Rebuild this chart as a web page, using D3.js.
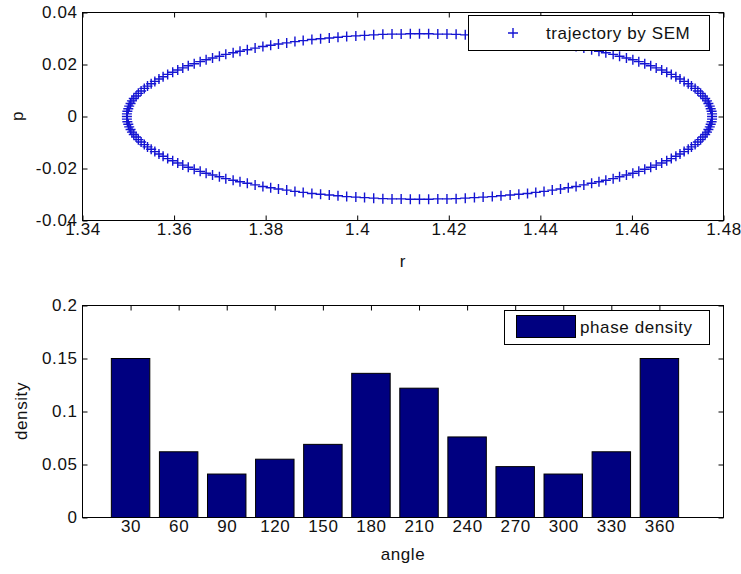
<!DOCTYPE html>
<html>
<head>
<meta charset="utf-8">
<script src="https://cdn.jsdelivr.net/npm/d3@7"></script>
<style>
  body { margin: 0; background: #fff; }
  svg text { font-family: "Liberation Sans", Arial, sans-serif; font-size: 17px; letter-spacing: 0.6px; fill: #111; }
</style>
</head>
<body>
<svg id="chart" width="741" height="574"></svg>
<script>
// trajectory points (r, p), upper half left->right then lower half back
const trajR = [
  1.3497, 1.3497, 1.3498, 1.3500, 1.3502, 1.3505, 1.3508, 1.3512, 1.3517, 1.3522,
  1.3528, 1.3535, 1.3542, 1.3550, 1.3558, 1.3567, 1.3576, 1.3586, 1.3597, 1.3608,
  1.3619, 1.3631, 1.3644, 1.3657, 1.3670, 1.3684, 1.3699, 1.3713, 1.3729, 1.3744,
  1.3760, 1.3777, 1.3794, 1.3811, 1.3828, 1.3846, 1.3864, 1.3882, 1.3901, 1.3920,
  1.3939, 1.3958, 1.3977, 1.3997, 1.4016, 1.4036, 1.4056, 1.4076, 1.4096, 1.4116,
  1.4136, 1.4156, 1.4176, 1.4196, 1.4216, 1.4236, 1.4256, 1.4275, 1.4295, 1.4314,
  1.4334, 1.4353, 1.4372, 1.4390, 1.4408, 1.4426, 1.4444, 1.4461, 1.4478, 1.4495,
  1.4512, 1.4528, 1.4543, 1.4559, 1.4573, 1.4588, 1.4602, 1.4615, 1.4628, 1.4641,
  1.4653, 1.4665, 1.4676, 1.4686, 1.4696, 1.4705, 1.4714, 1.4723, 1.4730, 1.4738,
  1.4744, 1.4750, 1.4755, 1.4760, 1.4764, 1.4767, 1.4770, 1.4772, 1.4774, 1.4775,
  1.4775, 1.4775, 1.4774, 1.4772, 1.4770, 1.4767, 1.4764, 1.4760, 1.4755, 1.4750,
  1.4744, 1.4738, 1.4730, 1.4723, 1.4714, 1.4705, 1.4696, 1.4686, 1.4676, 1.4665,
  1.4653, 1.4641, 1.4628, 1.4615, 1.4602, 1.4588, 1.4573, 1.4559, 1.4543, 1.4528,
  1.4512, 1.4495, 1.4478, 1.4461, 1.4444, 1.4426, 1.4408, 1.4390, 1.4372, 1.4353,
  1.4334, 1.4314, 1.4295, 1.4275, 1.4256, 1.4236, 1.4216, 1.4196, 1.4176, 1.4156,
  1.4136, 1.4116, 1.4096, 1.4076, 1.4056, 1.4036, 1.4016, 1.3997, 1.3977, 1.3958,
  1.3939, 1.3920, 1.3901, 1.3882, 1.3864, 1.3846, 1.3828, 1.3811, 1.3794, 1.3777,
  1.3760, 1.3744, 1.3729, 1.3713, 1.3699, 1.3684, 1.3670, 1.3657, 1.3644, 1.3631,
  1.3619, 1.3608, 1.3597, 1.3586, 1.3576, 1.3567, 1.3558, 1.3550, 1.3542, 1.3535,
  1.3528, 1.3522, 1.3517, 1.3512, 1.3508, 1.3505, 1.3502, 1.3500, 1.3498, 1.3497
];
const trajP = [
  0.0000, 0.0010, 0.0020, 0.0030, 0.0040, 0.0050, 0.0060, 0.0069, 0.0079, 0.0089,
  0.0098, 0.0108, 0.0117, 0.0126, 0.0135, 0.0144, 0.0153, 0.0162, 0.0170, 0.0179,
  0.0187, 0.0195, 0.0203, 0.0211, 0.0218, 0.0225, 0.0232, 0.0239, 0.0245, 0.0251,
  0.0257, 0.0263, 0.0269, 0.0274, 0.0279, 0.0283, 0.0288, 0.0292, 0.0296, 0.0299,
  0.0302, 0.0305, 0.0308, 0.0310, 0.0312, 0.0314, 0.0316, 0.0317, 0.0317, 0.0318,
  0.0318, 0.0318, 0.0317, 0.0317, 0.0316, 0.0314, 0.0312, 0.0310, 0.0308, 0.0305,
  0.0302, 0.0299, 0.0296, 0.0292, 0.0288, 0.0283, 0.0279, 0.0274, 0.0269, 0.0263,
  0.0257, 0.0251, 0.0245, 0.0239, 0.0232, 0.0225, 0.0218, 0.0211, 0.0203, 0.0195,
  0.0187, 0.0179, 0.0170, 0.0162, 0.0153, 0.0144, 0.0135, 0.0126, 0.0117, 0.0108,
  0.0098, 0.0089, 0.0079, 0.0069, 0.0060, 0.0050, 0.0040, 0.0030, 0.0020, 0.0010,
  0.0000, -0.0010, -0.0020, -0.0030, -0.0040, -0.0050, -0.0060, -0.0069, -0.0079, -0.0089,
  -0.0098, -0.0108, -0.0117, -0.0126, -0.0135, -0.0144, -0.0153, -0.0162, -0.0170, -0.0179,
  -0.0187, -0.0195, -0.0203, -0.0211, -0.0218, -0.0225, -0.0232, -0.0239, -0.0245, -0.0251,
  -0.0257, -0.0263, -0.0269, -0.0274, -0.0279, -0.0283, -0.0288, -0.0292, -0.0296, -0.0299,
  -0.0302, -0.0305, -0.0308, -0.0310, -0.0312, -0.0314, -0.0316, -0.0317, -0.0317, -0.0318,
  -0.0318, -0.0318, -0.0317, -0.0317, -0.0316, -0.0314, -0.0312, -0.0310, -0.0308, -0.0305,
  -0.0302, -0.0299, -0.0296, -0.0292, -0.0288, -0.0283, -0.0279, -0.0274, -0.0269, -0.0263,
  -0.0257, -0.0251, -0.0245, -0.0239, -0.0232, -0.0225, -0.0218, -0.0211, -0.0203, -0.0195,
  -0.0187, -0.0179, -0.0170, -0.0162, -0.0153, -0.0144, -0.0135, -0.0126, -0.0117, -0.0108,
  -0.0098, -0.0089, -0.0079, -0.0069, -0.0060, -0.0050, -0.0040, -0.0030, -0.0020, -0.0010
];

// phase density histogram
const angles = [30, 60, 90, 120, 150, 180, 210, 240, 270, 300, 330, 360];
const density = [0.150, 0.062, 0.041, 0.055, 0.069, 0.136, 0.122, 0.076, 0.048, 0.041, 0.062, 0.150];

// ticks
const rTicks = [1.34, 1.36, 1.38, 1.40, 1.42, 1.44, 1.46, 1.48];
const pTicks = [-0.04, -0.02, 0, 0.02, 0.04];
const densityTicks = [0, 0.05, 0.1, 0.15, 0.2];

const svg = d3.select("#chart");
const fmt = d => String(+d.toFixed(3));
const TICK = 5;

// ---------- top: trajectory ----------
const x1 = d3.scaleLinear().domain([1.34, 1.48]).range([82.5, 723.5]);
const y1 = d3.scaleLinear().domain([-0.04, 0.04]).range([220.5, 12.5]);

function frame(x, y, xt, yt) {
  const [l, r] = x.range(), [b, t] = y.range();
  const ax = (g) => g.call(s => s.select(".domain").remove());
  svg.append("g").attr("transform", `translate(0,${b})`)
    .call(d3.axisBottom(x).tickValues(xt).tickSizeInner(-TICK).tickSizeOuter(0).tickPadding(2)
      .tickFormat(fmt)).call(ax);
  svg.append("g").attr("transform", `translate(0,${t})`)
    .call(d3.axisTop(x).tickValues(xt).tickSizeInner(-TICK).tickSizeOuter(0).tickFormat("")).call(ax);
  svg.append("g").attr("transform", `translate(${l},0)`)
    .call(d3.axisLeft(y).tickValues(yt).tickSizeInner(-TICK).tickSizeOuter(0).tickPadding(5).tickFormat(fmt)).call(ax);
  svg.append("g").attr("transform", `translate(${r},0)`)
    .call(d3.axisRight(y).tickValues(yt).tickSizeInner(-TICK).tickSizeOuter(0).tickFormat("")).call(ax);
  svg.selectAll(".tick line").attr("stroke", "#000");
}

frame(x1, y1, rTicks, pTicks);

const plus = "M-5,0H5M0,-5V5";
svg.append("g").selectAll("path").data(trajR).join("path")
  .attr("d", plus)
  .attr("transform", (d, i) => `translate(${x1(d)},${y1(trajP[i])})`)
  .attr("fill", "none").attr("stroke", "#1414d2").attr("stroke-width", 1.4);

svg.append("rect").attr("x", 82.5).attr("y", 12.5).attr("width", 641).attr("height", 208)
  .attr("fill", "none").attr("stroke", "#000");

// legend
svg.append("rect").attr("x", 468.5).attr("y", 15.5).attr("width", 241).attr("height", 35)
  .attr("fill", "#fff").attr("stroke", "#000");
svg.append("path").attr("d", plus).attr("transform", "translate(513,33)")
  .attr("fill", "none").attr("stroke", "#1414d2").attr("stroke-width", 1.4);
svg.append("text").attr("x", 546).attr("y", 39).text("trajectory by SEM");

svg.append("text").attr("x", 403).attr("y", 267).attr("text-anchor", "middle").text("r");
svg.append("text").attr("transform", "translate(17,116) rotate(-90)").attr("text-anchor", "middle")
  .attr("dy", "0.35em").text("p");

// ---------- bottom: phase density ----------
const x2 = d3.scaleLinear().domain([0, 400]).range([82.5, 723.5]);
const y2 = d3.scaleLinear().domain([0, 0.2]).range([517.5, 305.5]);
const half = 12;

frame(x2, y2, angles, densityTicks);

svg.append("g").selectAll("rect").data(angles).join("rect")
  .attr("x", d => x2(d - half))
  .attr("width", d => x2(d + half) - x2(d - half))
  .attr("y", (d, i) => y2(density[i]))
  .attr("height", (d, i) => y2(0) - y2(density[i]))
  .attr("fill", "#000080").attr("stroke", "#000");

svg.append("rect").attr("x", 82.5).attr("y", 305.5).attr("width", 641).attr("height", 212)
  .attr("fill", "none").attr("stroke", "#000");

svg.append("rect").attr("x", 504.5).attr("y", 310.5).attr("width", 205).attr("height", 34)
  .attr("fill", "#fff").attr("stroke", "#000");
svg.append("rect").attr("x", 516.5).attr("y", 315.5).attr("width", 59).attr("height", 22)
  .attr("fill", "#000080").attr("stroke", "#000");
svg.append("text").attr("x", 580).attr("y", 333).text("phase density");

svg.append("text").attr("x", 403).attr("y", 560).attr("text-anchor", "middle").text("angle");
svg.append("text").attr("transform", "translate(21,411) rotate(-90)").attr("text-anchor", "middle")
  .attr("dy", "0.35em").text("density");
</script>
</body>
</html>
